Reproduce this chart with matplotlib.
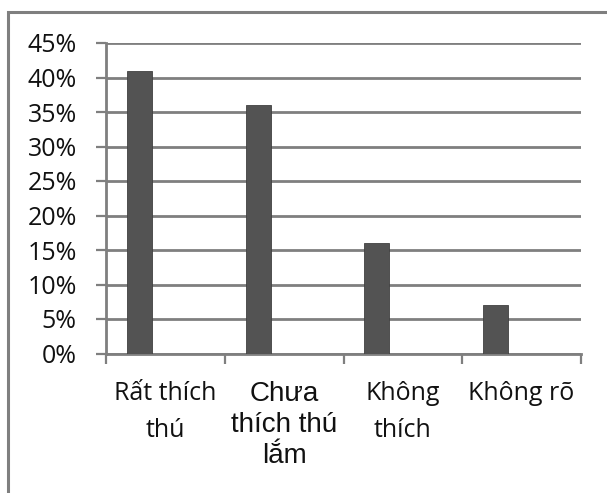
import matplotlib
matplotlib.use("Agg")
import matplotlib.pyplot as plt
from matplotlib.patches import Rectangle

categories = ["Rất thích\nthú", "Chưa\nthích thú\nlắm", "Không\nthích", "Không rõ"]
values = [0.41, 0.36, 0.16, 0.07]
yticks = [0, 0.05, 0.10, 0.15, 0.20, 0.25, 0.30, 0.35, 0.40, 0.45]
ytick_labels = ["0%", "5%", "10%", "15%", "20%", "25%", "30%", "35%", "40%", "45%"]

W, H = 607, 493
fig = plt.figure(figsize=(W / 100, H / 100), dpi=100)
fig.patch.set_facecolor("white")

left, right, top, bottom = 106, 581, 43, 353.5
ax = fig.add_axes([left / W, 1 - bottom / H, (right - left) / W, (bottom - top) / H])

grid_c = "#7f7f7f"
bar_c = "#535353"
text_c = "#111111"

xs = [i + 0.176 for i in range(len(values))]
ax.bar(xs, values, width=0.21, align="edge", color=bar_c, edgecolor="#404040", linewidth=0.6, zorder=3)

ax.set_xlim(0, len(values))
ax.set_ylim(0, 0.45)

ax.set_yticks(yticks)
ax.set_yticklabels(ytick_labels, fontfamily="Open Sans", fontsize=18, color=text_c)
ax.yaxis.grid(True, color=grid_c, linewidth=2.0, zorder=1)
ax.tick_params(axis="y", length=7, width=1.6, color=grid_c, pad=14)

ax.set_xticks(range(len(values) + 1))
ax.set_xticklabels([])
ax.tick_params(axis="x", which="major", length=7, width=1.6, color=grid_c)
ax.set_xticks([i + 0.5 for i in range(len(values))], minor=True)
ax.set_xticklabels(categories, minor=True, fontfamily="Open Sans", fontsize=18,
                   color=text_c, linespacing=1.6)
ax.tick_params(axis="x", which="minor", length=0, pad=20)
for i, lab in enumerate(ax.get_xticklabels(minor=True)):
    if i == 1:
        lab.set_fontfamily("Liberation Sans")
        lab.set_fontsize(20)
        lab.set_linespacing(1.25)

for s in ["top", "right"]:
    ax.spines[s].set_visible(False)
for s in ["left", "bottom"]:
    ax.spines[s].set_color(grid_c)
    ax.spines[s].set_linewidth(2.0)

frame = Rectangle((7.5 / W, -0.1), 1.2, 1 - 11.5 / H + 0.1, transform=fig.transFigure,
                  fill=False, edgecolor=grid_c, linewidth=2.2, clip_on=False)
fig.patches.append(frame)

fig.savefig("out.png", dpi=100, facecolor="white")
